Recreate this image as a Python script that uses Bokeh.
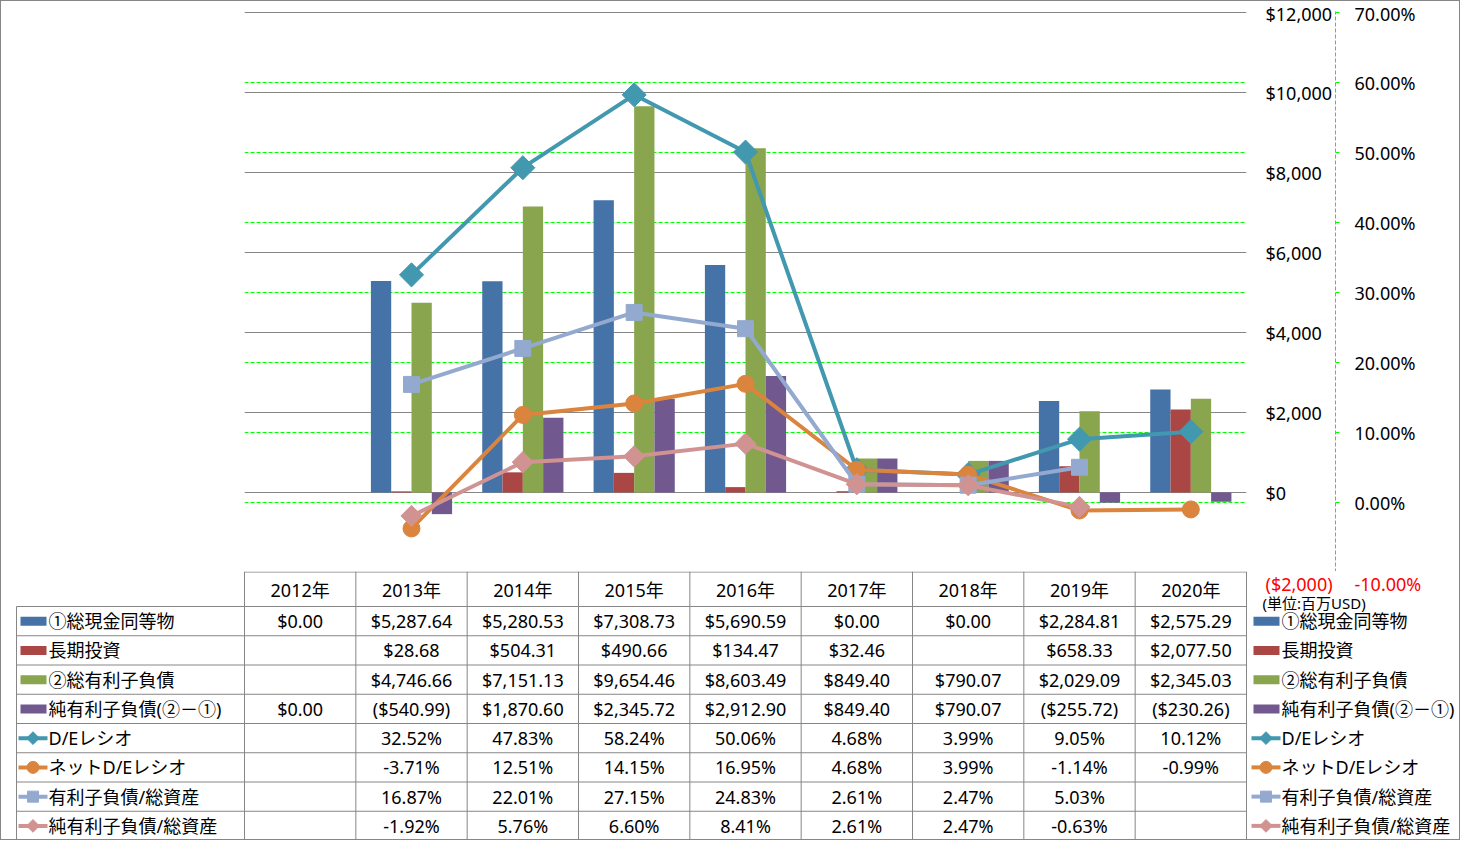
import numpy as np
from bokeh.plotting import figure
from bokeh.models import (Range1d, LinearAxis, FixedTicker, Grid,
                          ColumnDataSource, NumeralTickFormatter, PrintfTickFormatter)
from bokeh.embed import file_html
from bokeh.resources import INLINE
from bokeh.core.properties import value

# ---------------- data ----------------
years = ["2012年", "2013年", "2014年", "2015年", "2016年", "2017年", "2018年", "2019年", "2020年"]
cash = [0.00, 5287.64, 5280.53, 7308.73, 5690.59, 0.00, 0.00, 2284.81, 2575.29]
lt_invest = [None, 28.68, 504.31, 490.66, 134.47, 32.46, None, 658.33, 2077.50]
debt = [None, 4746.66, 7151.13, 9654.46, 8603.49, 849.40, 790.07, 2029.09, 2345.03]
net_debt = [0.00, -540.99, 1870.60, 2345.72, 2912.90, 849.40, 790.07, -255.72, -230.26]
de_ratio = [None, 32.52, 47.83, 58.24, 50.06, 4.68, 3.99, 9.05, 10.12]
net_de_ratio = [None, -3.71, 12.51, 14.15, 16.95, 4.68, 3.99, -1.14, -0.99]
debt_to_assets = [None, 16.87, 22.01, 27.15, 24.83, 2.61, 2.47, 5.03, None]
net_debt_to_assets = [None, -1.92, 5.76, 6.60, 8.41, 2.61, 2.47, -0.63, None]

bar_names = ["①総現金同等物", "長期投資", "②総有利子負債", "純有利子負債(②－①)"]
line_names = ["D/Eレシオ", "ネットD/Eレシオ", "有利子負債/総資産", "純有利子負債/総資産"]
usd_ticks = [-2000, 0, 2000, 4000, 6000, 8000, 10000, 12000]
pct_ticks = [-10, 0, 10, 20, 30, 40, 50, 60, 70]
unit_note = "(単位:百万USD)"

bar_series = [cash, lt_invest, debt, net_debt]
line_series = [de_ratio, net_de_ratio, debt_to_assets, net_debt_to_assets]

# ---------------- style ----------------
FONT = "Noto Sans, Noto Sans CJK JP"
FS = "18px"
GRAY = "#868686"
GREEN = "#00FF00"
RED = "#FF0000"
BAR_COLORS = ["#4572A7", "#AA4643", "#89A54E", "#71588F"]
LINE_COLORS = ["#4198AF", "#DB843D", "#93A9CF", "#D19392"]
MARKERS = [("square", 17, np.pi / 4), ("circle", 17, 0.0), ("square", 16, 0.0), ("square", 15, np.pi / 4)]
KEY_MARKERS = [("square", 9, np.pi / 4), ("circle", 12, 0.0), ("square", 11, 0.0), ("square", 9, np.pi / 4)]
BORDER = "1px solid " + GRAY

W = 1460
FL = 243
FW = 1002
FT = 10
FH = 561          # one extra pixel above the top tick so that its grid line shows
n = len(years)
colw = FW / n
bar_w = 20.3 / colw

usd_span = usd_ticks[-1] - usd_ticks[0]
pct_span = pct_ticks[-1] - pct_ticks[0]
usd_pad = usd_span / (FH - 1)
pct_pad = pct_span / (FH - 1)


def nan(vals):
    return [np.nan if v is None else v for v in vals]


def fmt_usd(v):
    if v is None:
        return ""
    if v < 0:
        return "(${:,.2f})".format(-v)
    return "${:,.2f}".format(v)


def fmt_pct(v):
    return "" if v is None else "{:.2f}%".format(v)


def fmt_usd_tick(v):
    return "(${:,.0f})".format(-v) if v < 0 else "${:,.0f}".format(v)


# ---------------- chart ----------------
p = figure(width=W, height=FT + FH,
           x_range=Range1d(-0.5, n - 0.5),
           y_range=Range1d(usd_ticks[0], usd_ticks[-1] + usd_pad),
           output_backend="svg", toolbar_location=None,
           x_axis_location=None, y_axis_location=None,
           min_border_left=FL, min_border_right=W - FL - FW,
           min_border_top=FT, min_border_bottom=0,
           outline_line_color=None)
p.styles = {"border-top": BORDER, "border-left": BORDER, "border-right": BORDER}
p.xgrid.visible = False
p.ygrid.visible = False
p.extra_y_ranges = {"pct": Range1d(pct_ticks[0], pct_ticks[-1] + pct_pad)}

p.add_layout(Grid(dimension=1, ticker=FixedTicker(ticks=usd_ticks),
                  grid_line_color=GRAY, grid_line_width=1))
p.add_layout(Grid(dimension=1, ticker=FixedTicker(ticks=pct_ticks[1:-1]), y_range_name="pct",
                  grid_line_color=GREEN, grid_line_width=1, grid_line_dash="4 2"))

xs = np.arange(n)
for k, (vals, col) in enumerate(zip(bar_series, BAR_COLORS)):
    src = ColumnDataSource(dict(x=xs + (k - 1.5) * bar_w, top=nan(vals)))
    p.vbar(x="x", top="top", bottom=0, width=bar_w, source=src,
           fill_color=col, line_color=None)

for vals, col, (mk, sz, ang) in zip(line_series, LINE_COLORS, MARKERS):
    y = nan(vals)
    p.line(xs, y, y_range_name="pct", line_color=col, line_width=4)
    p.scatter(xs, y, y_range_name="pct", marker=mk, size=sz, angle=ang,
              fill_color=col, line_color=col)

usd_axis = LinearAxis(ticker=FixedTicker(ticks=usd_ticks),
                      formatter=NumeralTickFormatter(format="$0,0"),
                      major_label_overrides={usd_ticks[0]: "", str(usd_ticks[0]): ""},
                      axis_line_color=None, major_tick_line_color=None,
                      minor_tick_line_color=None, major_tick_in=0, major_tick_out=0,
                      major_label_standoff=19, major_label_text_font=FONT,
                      major_label_text_font_size=FS, major_label_text_color="black")
p.add_layout(usd_axis, "right")

pct_axis = LinearAxis(y_range_name="pct", ticker=FixedTicker(ticks=pct_ticks),
                      formatter=PrintfTickFormatter(format="%.2f%%"),
                      major_label_overrides={pct_ticks[0]: "", str(pct_ticks[0]): ""},
                      axis_line_color=GREEN, axis_line_dash="4 2",
                      major_tick_line_color=GREEN, major_tick_in=0, major_tick_out=4,
                      minor_tick_line_color=None, major_label_standoff=15,
                      major_label_text_font=FONT, major_label_text_font_size=FS,
                      major_label_text_color="black")
p.add_layout(pct_axis, "right")

# ---------------- data table ----------------
TH = 269
HH = 35
RH = (TH - HH) / 8
LEFT_LINE = 15

t = figure(width=W, height=TH, x_range=Range1d(0, W), y_range=Range1d(TH, 0),
           output_backend="svg", toolbar_location=None,
           x_axis_location=None, y_axis_location=None,
           min_border_left=0, min_border_right=0, min_border_top=0, min_border_bottom=0,
           outline_line_color=None)
t.styles = {"border-bottom": BORDER, "border-left": BORDER, "border-right": BORDER}
t.xgrid.visible = False
t.ygrid.visible = False

vx = [FL + i * colw for i in range(n + 1)]
t.segment(x0=vx, y0=[0] * len(vx), x1=vx, y1=[TH] * len(vx), line_color=GRAY, line_width=1)
t.segment(x0=[FL], y0=[0.5], x1=[FL + FW], y1=[0.5], line_color=GRAY, line_width=1)
t.segment(x0=[LEFT_LINE], y0=[HH], x1=[LEFT_LINE], y1=[TH], line_color=GRAY, line_width=1)
hy = [HH + i * RH for i in range(8)]
t.segment(x0=[LEFT_LINE] * len(hy), y0=hy, x1=[FL + FW] * len(hy), y1=hy, line_color=GRAY, line_width=1)

centers = [FL + (i + 0.5) * colw for i in range(n)]
t.text(x=centers, y=[HH / 2 + 1] * n, text=years, text_font=value(FONT), text_font_size=FS,
       text_align="center", text_baseline="middle", text_color="black")

# red end labels of the two value axes and the unit note
t.text(x=[FL + FW + 19, FL + FW + 108], y=[12, 12],
       text=[fmt_usd_tick(usd_ticks[0]), "{:.2f}%".format(pct_ticks[0])],
       text_font=value(FONT), text_font_size=FS, text_align="left",
       text_baseline="middle", text_color=RED)
t.text(x=[FL + FW + 16], y=[31], text=[unit_note], text_font=value(FONT), text_font_size="15px",
       text_align="left", text_baseline="middle", text_color="black")

row_texts = [[fmt_usd(v) for v in s] for s in bar_series] + [[fmt_pct(v) for v in s] for s in line_series]
row_names = bar_names + line_names
for r, (texts, name) in enumerate(zip(row_texts, row_names)):
    yc = HH + (r + 0.5) * RH
    t.text(x=centers, y=[yc] * n, text=texts, text_font=value(FONT), text_font_size=FS,
           text_align="center", text_baseline="middle", text_color="black")
    for kx in (19, FL + FW + 7):
        t.text(x=[kx + 28], y=[yc], text=[name], text_font=value(FONT), text_font_size=FS,
               text_align="left", text_baseline="middle", text_color="black")
        if r < 4:
            t.rect(x=[kx + 13], y=[yc], width=26, height=9, fill_color=BAR_COLORS[r], line_color=None)
        else:
            j = r - 4
            mk, sz, ang = KEY_MARKERS[j]
            t.segment(x0=[kx - 2], y0=[yc], x1=[kx + 27], y1=[yc], line_color=LINE_COLORS[j], line_width=4)
            t.scatter(x=[kx + 12.5], y=[yc], marker=mk, size=sz, angle=ang,
                      fill_color=LINE_COLORS[j], line_color=LINE_COLORS[j])

open("out.html", "w").write(file_html([p, t], INLINE))
